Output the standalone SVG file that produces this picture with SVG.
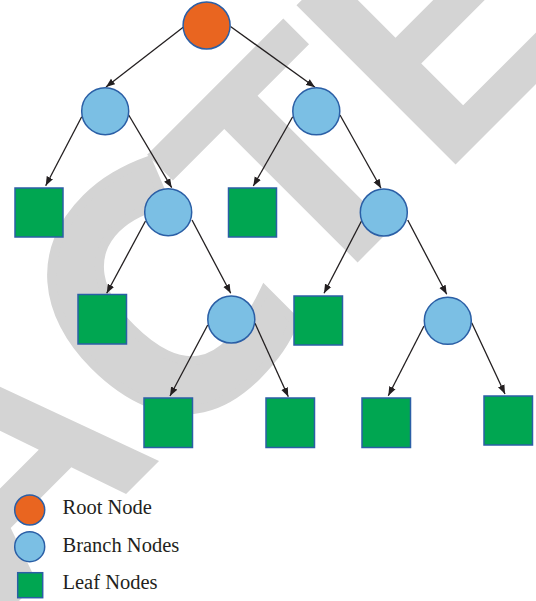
<svg xmlns="http://www.w3.org/2000/svg" width="536" height="601" viewBox="0 0 536 601">
  <style>
    .wm { font-family: "Liberation Sans", Arial, sans-serif; font-weight: bold; font-size: 327px; fill: #d4d4d4; }
    .wmc { font-family: "Open Sans", "Liberation Sans", sans-serif; font-size: 335px; stroke: #d4d4d4; stroke-width: 9; }
    .root { fill: #e96520; stroke: #2b5fa6; stroke-width: 1.5; }
    .branch { fill: #7bbfe4; stroke: #2b5fa6; stroke-width: 1.5; }
    .leaf { fill: #00a651; stroke: #2b5fa6; stroke-width: 1.5; }
    .edge { stroke: #231f20; stroke-width: 1.3; fill: none; marker-end: url(#arrow); }
    .lbl { font-family: "Liberation Serif", "Times New Roman", serif; font-size: 20.5px; fill: #231f20; }
  </style>
  <defs>
    <marker id="arrow" markerUnits="userSpaceOnUse" markerWidth="10" markerHeight="8" refX="9" refY="4" orient="auto">
      <path d="M0,0.5 L9,4 L0,7.5 Z" fill="#231f20"/>
    </marker>
  </defs>
  <rect width="536" height="601" fill="#ffffff"/>
  <g id="watermark">
    <text class="wm" transform="rotate(-45)"><tspan x="-677 -441" y="438.4">RA</tspan><tspan class="wmc" x="-211" y="444">C</tspan><tspan x="-9 184 402" y="438.4">TED</tspan></text>
  </g>
  <g id="connectors">
    <line class="edge" x1="183.5" y1="27" x2="106" y2="87"/>
    <line class="edge" x1="230.5" y1="26.5" x2="315" y2="87.3"/>
    <line class="edge" x1="81.7" y1="116.7" x2="45.7" y2="185.7"/>
    <line class="edge" x1="128.7" y1="115" x2="171.7" y2="187.7"/>
    <line class="edge" x1="292.7" y1="116.7" x2="253.3" y2="186"/>
    <line class="edge" x1="340" y1="115" x2="381" y2="188.3"/>
    <line class="edge" x1="145.5" y1="221" x2="106.7" y2="293.3"/>
    <line class="edge" x1="192" y1="220" x2="230.7" y2="293.3"/>
    <line class="edge" x1="361.5" y1="221" x2="324" y2="293.3"/>
    <line class="edge" x1="407.7" y1="220" x2="446.7" y2="294.3"/>
    <line class="edge" x1="207.7" y1="325" x2="170" y2="396"/>
    <line class="edge" x1="255" y1="323.3" x2="288.3" y2="396.7"/>
    <line class="edge" x1="424" y1="326" x2="388.3" y2="395.7"/>
    <line class="edge" x1="471.7" y1="322.7" x2="505" y2="394"/>
  </g>
  <g id="root"><circle class="root" cx="206.6" cy="25.5" r="23.5"/></g>
  <g id="branch-1"><circle class="branch" cx="105.2" cy="111.2" r="23.5"/></g>
  <g id="branch-2"><circle class="branch" cx="316.3" cy="111.3" r="23.5"/></g>
  <g id="branch-3"><circle class="branch" cx="168.2" cy="212.2" r="23.5"/></g>
  <g id="branch-4"><circle class="branch" cx="383.8" cy="212.5" r="23.5"/></g>
  <g id="branch-5"><circle class="branch" cx="231.3" cy="319.5" r="23.5"/></g>
  <g id="branch-6"><circle class="branch" cx="447.8" cy="320.8" r="23.5"/></g>
  <g id="leaf-1"><rect class="leaf" x="15" y="188" width="48" height="49"/></g>
  <g id="leaf-2"><rect class="leaf" x="228.5" y="188" width="48" height="49"/></g>
  <g id="leaf-3"><rect class="leaf" x="78" y="294.5" width="48.5" height="49.5"/></g>
  <g id="leaf-4"><rect class="leaf" x="294" y="296" width="48.5" height="49"/></g>
  <g id="leaf-5"><rect class="leaf" x="144" y="398" width="48.5" height="49.5"/></g>
  <g id="leaf-6"><rect class="leaf" x="266" y="398" width="48.5" height="49.5"/></g>
  <g id="leaf-7"><rect class="leaf" x="362" y="398" width="48.5" height="49.5"/></g>
  <g id="leaf-8"><rect class="leaf" x="484" y="396" width="48.5" height="49"/></g>
  <g id="legend">
    <g id="legend-root"><circle class="root" cx="29.7" cy="510" r="15"/><text class="lbl" x="62.5" y="514">Root Node</text></g>
    <g id="legend-branch"><circle class="branch" cx="29.7" cy="546.7" r="15"/><text class="lbl" x="62.5" y="551.5">Branch Nodes</text></g>
    <g id="legend-leaf"><rect class="leaf" x="17.7" y="572.7" width="25" height="25"/><text class="lbl" x="62.5" y="589">Leaf Nodes</text></g>
  </g>
</svg>
